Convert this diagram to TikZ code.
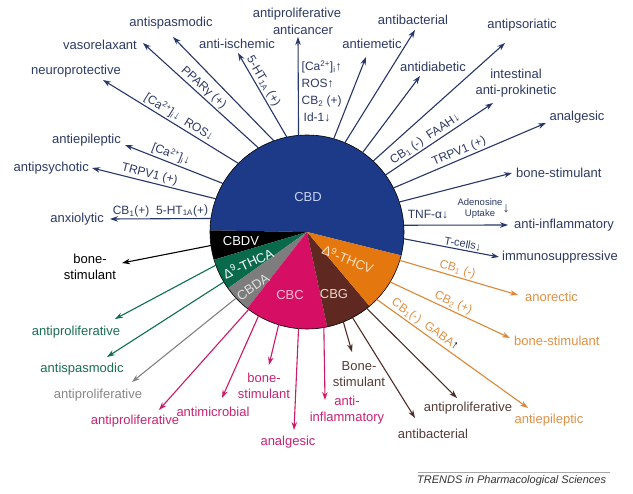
\documentclass[tikz,border=0pt]{standalone}
\usepackage{fontspec}
\setmainfont{Liberation Sans}
\usetikzlibrary{arrows.meta,calc}
\definecolor{cbdfill}{RGB}{28,58,135}
\definecolor{barrow}{RGB}{38,55,105}
\definecolor{btext}{RGB}{45,58,100}
\definecolor{cbdtext}{RGB}{200,210,240}
\definecolor{thcafill}{RGB}{8,105,75}
\definecolor{harrow}{RGB}{15,110,80}
\definecolor{htext}{RGB}{25,110,80}
\definecolor{cbdafill}{RGB}{125,125,125}
\definecolor{aarrow}{RGB}{130,130,130}
\definecolor{atext}{RGB}{135,135,135}
\definecolor{cbdatext}{RGB}{225,225,225}
\definecolor{cbcfill}{RGB}{215,15,100}
\definecolor{marrow}{RGB}{205,25,105}
\definecolor{mtext}{RGB}{200,35,115}
\definecolor{cbctext}{RGB}{250,190,215}
\definecolor{cbgfill}{RGB}{95,40,32}
\definecolor{brarrow}{RGB}{80,45,38}
\definecolor{brtext}{RGB}{85,60,55}
\definecolor{cbgtext}{RGB}{235,215,205}
\definecolor{thcvfill}{RGB}{228,120,15}
\definecolor{oarrow}{RGB}{220,135,55}
\definecolor{otext}{RGB}{225,145,70}
\definecolor{thcvtext}{RGB}{255,225,195}
\begin{document}
\begin{tikzpicture}[x=1pt,y=1pt,
  arr/.style={line width=1.1pt,-{Stealth[length=8pt,width=5.5pt]}},
  lab/.style={font=\fontsize{13}{15.5}\selectfont, inner sep=0pt, align=center},
  mechf/.style={font=\fontsize{12}{14}\selectfont, inner sep=1.5pt},
  mech/.style={mechf, sloped, above},
  pielab/.style={font=\fontsize{13}{15}\selectfont, inner sep=0pt},
  barr/.style={arr, color=barrow}, blab/.style={lab, text=btext}, bmech/.style={mech, text=btext},
  oarr/.style={arr, color=oarrow}, olab/.style={lab, text=otext}, omech/.style={mech, text=otext},
  brarr/.style={arr, color=brarrow}, brlab/.style={lab, text=brtext},
  marr/.style={arr, color=marrow}, mlab/.style={lab, text=mtext},
  aarr/.style={arr, color=aarrow}, alab/.style={lab, text=atext},
  harr/.style={arr, color=harrow}, hlab/.style={lab, text=htext},
  varr/.style={arr, color=black}, vlab/.style={lab, text=black}]
\useasboundingbox[fill=white] (0,0) rectangle (633,-494);
\coordinate (C) at (307,-232);
% pie slices
\fill[cbdfill] (C) -- ($(C)+(-14:97)$) arc[start angle=-14,end angle=179,radius=97] -- cycle;
\fill[black] (C) -- ($(C)+(179:97)$) arc[start angle=179,end angle=196.6,radius=97] -- cycle;
\fill[thcafill] (C) -- ($(C)+(196.6:97)$) arc[start angle=196.6,end angle=215.5,radius=97] -- cycle;
\fill[cbdafill] (C) -- ($(C)+(215.5:97)$) arc[start angle=215.5,end angle=232,radius=97] -- cycle;
\fill[cbcfill] (C) -- ($(C)+(232:97)$) arc[start angle=232,end angle=282,radius=97] -- cycle;
\fill[cbgfill] (C) -- ($(C)+(282:97)$) arc[start angle=282,end angle=310.2,radius=97] -- cycle;
\fill[thcvfill] (C) -- ($(C)+(310.2:97)$) arc[start angle=310.2,end angle=346,radius=97] -- cycle;
\node[circle, draw=black, line width=0.6pt, minimum size=194pt, inner sep=0pt, outer sep=0pt] (pie) at (C) {};
% pie labels
\node[pielab, text=cbdtext] (tCBD) at (308,-197) {CBD};
\node[pielab, text=white] (tCBDV) at (241,-241) {CBDV};
\node[pielab, text=white, rotate=25] (tTHCA) at (248,-263) {Δ\textsuperscript{9}-THCA};
\node[pielab, text=cbdatext, rotate=35] (tCBDA) at (253,-287) {CBDA};
\node[pielab, text=cbctext] (tCBC) at (290,-295) {CBC};
\node[pielab, text=cbgtext] (tCBG) at (334,-294) {CBG};
\node[pielab, text=thcvtext, rotate=-22] (tTHCV) at (348,-259) {Δ\textsuperscript{9}-THCV};
% ---------- blue (CBD) ----------
\coordinate (tb1) at (110,-219);
\coordinate (tb2) at (92,-168);
\coordinate (tb3) at (125,-145);
\coordinate (tb4) at (103,-80);
\coordinate (tb5) at (143,-43);
\coordinate (tb6) at (173,-37);
\coordinate (tb7) at (238,-53);
\coordinate (tb8) at (298,-37);
\coordinate (tb9) at (366,-57);
\coordinate (tb10) at (415,-30);
\coordinate (tb11) at (420,-76);
\coordinate (tb12) at (505,-43);
\coordinate (tb13) at (493,-103);
\coordinate (tb14) at (546,-123);
\coordinate (tb15) at (512,-173);
\coordinate (tb16) at (508,-225);
\coordinate (tb17) at (499,-257);
\draw[barr] (pie.172) -- node[bmech,pos=0.5] (mb1) {CB\textsubscript{1}(+)\ \ 5-HT\textsubscript{1A}(+)} (tb1);
\draw[barr] (pie.160) -- node[bmech,pos=0.55] (mb2) {TRPV1 (+)} (tb2);
\draw[barr] (pie.150) -- node[bmech,pos=0.56] (mb3) {[Ca\textsuperscript{2+}]\textsubscript{i}↓} (tb3);
\draw[barr] (pie.135) -- node[bmech,pos=0.47] (mb4) {[Ca\textsuperscript{2+}]\textsubscript{i}↓ \ ROS↓} (tb4);
\draw[barr] (pie.120) -- node[bmech,pos=0.52] (mb5) {PPARγ (+)} (tb5);
\draw[barr] (pie.110) -- (tb6);
\draw[barr] (pie.102) -- node[bmech,pos=0.62] (mb7) {5-HT\textsubscript{1A} (+)} (tb7);
\draw[barr] (pie.95.3) -- (tb8);
\draw[barr] (pie.74.5) -- (tb9);
\draw[barr] (pie.67) -- (tb10);
\draw[barr] (pie.55) -- (tb11);
\draw[barr] (pie.47) -- (tb12);
\draw[barr] (pie.36) -- node[bmech,pos=0.41] (mb13) {CB\textsubscript{1} (-) \ FAAH↓} (tb13);
\draw[barr] (pie.27) -- node[bmech,pos=0.45] (mb14) {TRPV1 (+)} (tb14);
\draw[barr] (pie.18) -- (tb15);
\draw[barr] (pie.4) -- (tb16);
\draw[barr] (pie.-4) -- node[bmech,pos=0.61,font=\fontsize{11}{13}\selectfont] (mb17) {T-cells↓} (tb17);
\node[mechf, text=btext, anchor=north west, align=left, font=\fontsize{12}{17}\selectfont] (mb8) at (300,-59) {[Ca\textsuperscript{2+}]\textsubscript{i}↑\\ROS↑\\CB\textsubscript{2} (+)\\\,Id-1↓};
\node[mechf, text=btext] (mb16a) at (428,-215) {TNF-α↓};
\node[text=btext, inner sep=0pt, align=center, font=\fontsize{9.5}{11}\selectfont] (mb16b) at (480,-209) {Adenosine\\Uptake};
\node[text=btext, inner sep=0pt, font=\fontsize{14}{14}\selectfont] (mb16c) at (506,-209) {↓};
\node[blab, anchor=east] (lb1) at (104,-219) {anxiolytic};
\node[blab, anchor=east] (lb2) at (89,-168) {antipsychotic};
\node[blab, anchor=east] (lb3) at (121,-140) {antiepileptic};
\node[blab] (lb4) at (76,-71) {neuroprotective};
\node[blab] (lb5) at (100,-45) {vasorelaxant};
\node[blab] (lb6) at (171,-23) {antispasmodic};
\node[blab] (lb7) at (237,-44) {anti-ischemic};
\node[blab] (lb8a) at (297,-14) {antiproliferative};
\node[blab] (lb8b) at (303,-30) {anticancer};
\node[blab] (lb9) at (372,-44) {antiemetic};
\node[blab] (lb10) at (413,-20) {antibacterial};
\node[blab] (lb11) at (433,-67) {antidiabetic};
\node[blab] (lb12) at (522,-25) {antipsoriatic};
\node[blab] (lb13) at (516,-83) {intestinal\\anti-prokinetic};
\node[blab] (lb14) at (577,-117) {analgesic};
\node[blab, anchor=west] (lb15) at (516,-173) {bone-stimulant};
\node[blab, anchor=west] (lb16) at (514,-225) {anti-inflammatory};
\node[blab, anchor=west] (lb17) at (502,-257) {immunosuppressive};
% ---------- orange (THCV) ----------
\coordinate (to1) at (518,-295);
\coordinate (to2) at (510,-338);
\coordinate (to3) at (528,-408);
\draw[oarr] (pie.-17) -- node[omech,pos=0.47] (mo1) {CB\textsubscript{1} (-)} (to1);
\draw[oarr] (pie.-31.6) -- node[omech,pos=0.5] (mo2) {CB\textsubscript{2} (+)} (to2);
\draw[oarr] (pie.-44) -- node[omech,pos=0.29] (mo3) {CB\textsubscript{1}(-) \ GABA\textcolor{black}{↑}} (to3);
\node[olab, anchor=west] (lo1) at (525,-297) {anorectic};
\node[olab, anchor=west] (lo2) at (514,-341) {bone-stimulant};
\node[olab] (lo3) at (549,-420) {antiepileptic};
% ---------- brown (CBG) ----------
\coordinate (tg1) at (457,-398);
\coordinate (tg2) at (415,-418);
\coordinate (tg3) at (352,-352);
\draw[brarr] (pie.-52) -- (tg1);
\draw[brarr] (pie.-62) -- (tg2);
\draw[brarr] (pie.-68.4) -- (tg3);
\node[brlab] (lg1) at (468,-408) {antiproliferative};
\node[brlab] (lg2) at (433,-434) {antibacterial};
\node[brlab] (lg3) at (359,-374) {Bone-\\stimulant};
% ---------- magenta (CBC) ----------
\coordinate (tm1) at (325,-400);
\coordinate (tm2) at (294,-430);
\coordinate (tm3) at (269,-365);
\coordinate (tm4) at (222,-398);
\coordinate (tm5) at (159,-410);
\draw[marr] (pie.280.6) -- (tm1);
\draw[marr] (pie.265) -- (tm2);
\draw[marr] (pie.253.4) -- (tm3);
\draw[marr] (pie.240.9) -- (tm4);
\draw[marr] (pie.233.9) -- (tm5);
\node[mlab] (lm1) at (347,-410) {anti-\\inflammatory};
\node[mlab] (lm2) at (288,-442) {analgesic};
\node[mlab] (lm3) at (264,-386) {bone-\\stimulant};
\node[mlab] (lm4) at (213,-412) {antimicrobial};
\node[mlab] (lm5) at (135,-421) {antiproliferative};
% ---------- gray (CBDA) ----------
\coordinate (ta1) at (132,-382);
\draw[aarr] (pie.223.4) -- (ta1);
\node[alab] (la1) at (98,-395) {antiproliferative};
% ---------- green (THCA) ----------
\coordinate (th1) at (107,-357);
\coordinate (th2) at (115,-319);
\draw[harr] (pie.211) -- (th1);
\draw[harr] (pie.200.4) -- (th2);
\node[hlab] (lh1) at (82,-369) {antispasmodic};
\node[hlab] (lh2) at (76,-332) {antiproliferative};
% ---------- black (CBDV) ----------
\coordinate (tv1) at (122,-263);
\draw[varr] (pie.188) -- (tv1);
\node[vlab] (lv1) at (90,-267) {bone-\\stimulant};
% footer
\draw[gray!70, line width=0.8pt] (418,-472) -- (610,-472);
\node[font=\itshape\fontsize{11}{13}\selectfont, text=black!80, anchor=west, inner sep=0pt] (foot) at (417,-481) {TRENDS in Pharmacological Sciences};
\end{tikzpicture}
\end{document}
